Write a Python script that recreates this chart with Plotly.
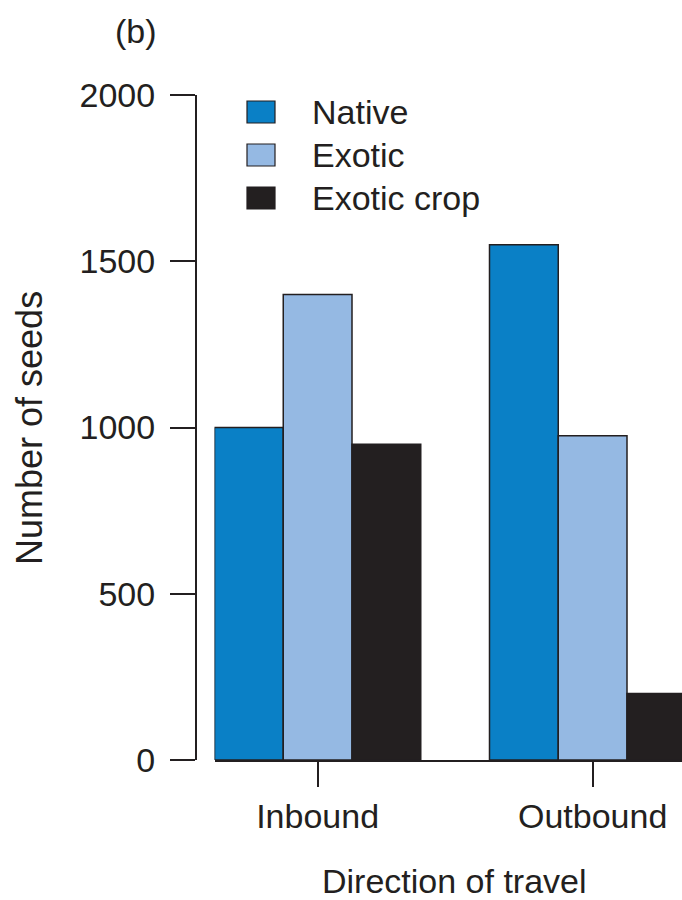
import plotly.graph_objects as go

# Seed counts by direction of travel and seed origin
directions = ["Inbound", "Outbound"]
native = [1000, 1550]
exotic = [1400, 975]
exotic_crop = [950, 200]

series_names = ["Native", "Exotic", "Exotic crop"]
series_values = [native, exotic, exotic_crop]
series_colors = ["#0a80c6", "#95b9e3", "#231f20"]

y_ticks = [0, 500, 1000, 1500, 2000]

W, H = 682, 900
M_T, M_B = 95, 140
PLOT_H = H - M_T - M_B
FONT = "Liberation Sans, Arial, Helvetica, sans-serif"
INK = "#231f20"
FS = 34


def px_x(px):
    return px / W


def px_y(py):
    return (H - M_B - py) / PLOT_H


bargap = 0.25
x_start = -(1 - bargap) / 2
cat_px = 275.0          # pixels between category centres
x_dom0 = 214.5          # left edge of the bar area
x_end = x_start + (W - x_dom0) / cat_px

fig = go.Figure()
for name, vals, col in zip(series_names, series_values, series_colors):
    fig.add_trace(go.Bar(
        x=directions, y=vals, name=name,
        marker=dict(color=col, line=dict(color=INK, width=1.5)),
        showlegend=False,
    ))

# Legend keys and labels
legend_rows = [112, 155, 198]
shapes = []
annotations = []
for name, col, yc in zip(series_names, series_colors, legend_rows):
    shapes.append(dict(
        type="rect", xref="paper", yref="paper",
        x0=px_x(247), x1=px_x(275), y0=px_y(yc + 11), y1=px_y(yc - 11),
        fillcolor=col, line=dict(color=INK, width=1.2),
    ))
    annotations.append(dict(
        text=name, xref="paper", yref="paper",
        x=px_x(310), y=px_y(yc), xanchor="left", yanchor="middle",
        showarrow=False, font=dict(size=FS, color=INK, family=FONT),
    ))

annotations += [
    dict(text="Number of seeds", xref="paper", yref="paper",
         x=px_x(30), y=px_y(428), textangle=-90,
         xanchor="center", yanchor="middle", showarrow=False,
         font=dict(size=FS + 2, color=INK, family=FONT)),
    dict(text="Direction of travel", xref="paper", yref="paper",
         x=px_x(454), y=px_y(881), xanchor="center", yanchor="middle",
         showarrow=False, font=dict(size=FS, color=INK, family=FONT)),
    dict(text="(b)", xref="paper", yref="paper",
         x=px_x(136), y=px_y(31), xanchor="center", yanchor="middle",
         showarrow=False, font=dict(size=FS, color=INK, family=FONT)),
]

fig.update_layout(
    width=W, height=H,
    margin=dict(l=0, r=0, t=M_T, b=M_B, pad=0),
    paper_bgcolor="white", plot_bgcolor="white",
    barmode="group", bargap=bargap, bargroupgap=0,
    font=dict(family=FONT, size=FS, color=INK),
    shapes=shapes, annotations=annotations,
    xaxis=dict(
        domain=[px_x(x_dom0), 1], range=[x_start, x_end],
        showline=True, linecolor=INK, linewidth=1.5,
        ticks="outside", ticklen=25, tickwidth=1.5, tickcolor=INK,
        showgrid=False, zeroline=False, fixedrange=True,
        tickfont=dict(size=FS, color=INK, family=FONT),
    ),
    yaxis=dict(
        anchor="free", position=px_x(195.7), range=[0, 2000],
        tickvals=y_ticks, ticktext=[str(v) for v in y_ticks],
        showline=True, linecolor=INK, linewidth=1.5,
        ticks="outside", ticklen=25, tickwidth=1.5, tickcolor=INK,
        showgrid=False, zeroline=False, fixedrange=True,
        ticklabelstandoff=8,
        tickfont=dict(size=FS, color=INK, family=FONT),
    ),
)

fig.write_html("out.html")
